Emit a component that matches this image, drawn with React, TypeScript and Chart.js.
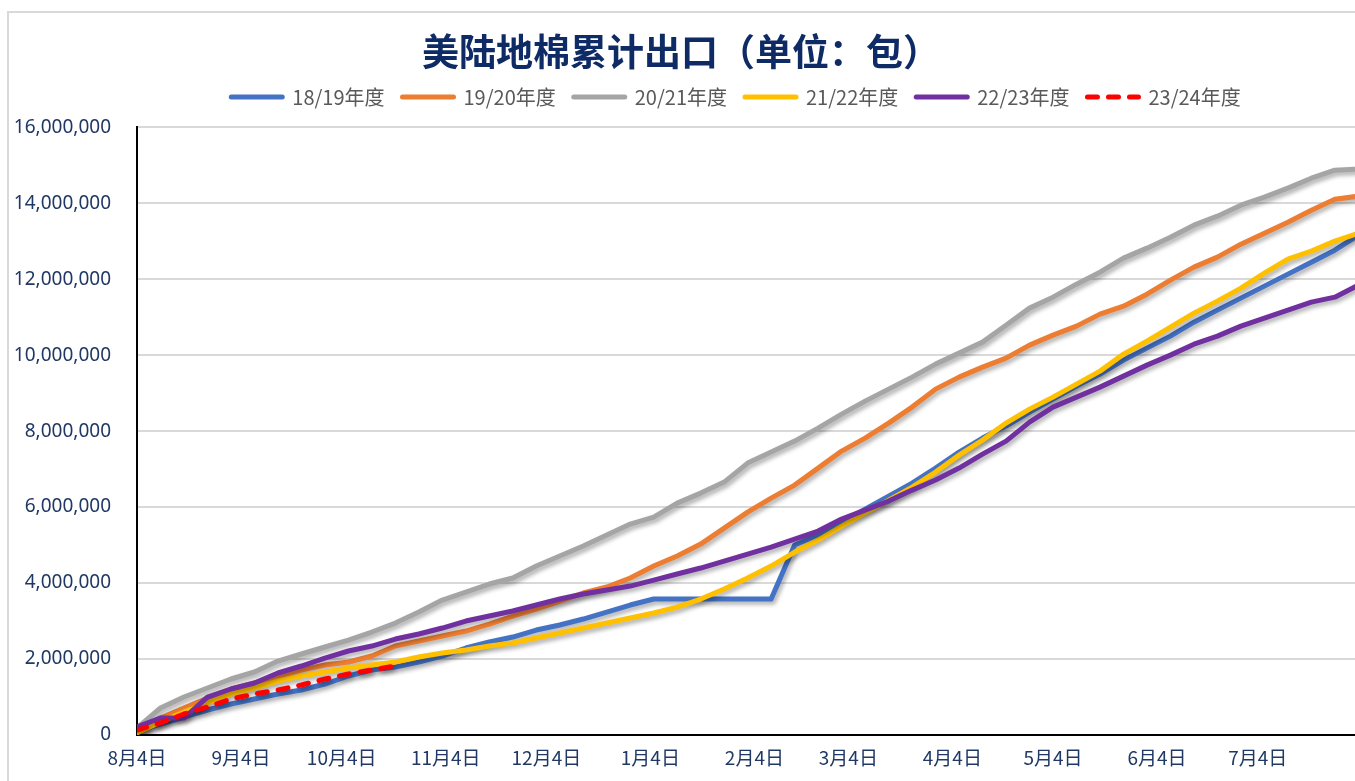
import React, { useEffect, useRef } from 'react';
import { Chart, registerables } from 'chart.js';

Chart.register(...registerables);

const TITLE = '美陆地棉累计出口（单位：包）';

// days since Aug 4 for each weekly observation
const WEEK_DAYS = [0, 7, 14, 21, 28, 35, 42, 49, 56, 63, 70, 77, 84, 91, 98, 105, 112, 119, 126, 133, 140, 147, 154, 161, 168, 175, 182, 189, 196, 203, 210, 217, 224, 231, 238, 245, 252, 259, 266, 273, 280, 287, 294, 301, 308, 315, 322, 329, 336, 343, 350, 357, 364];

// x-axis tick positions (days since Aug 4) and labels
const TICK_DAYS = [0, 31, 61, 92, 122, 153, 184, 212, 243, 273, 304, 334];
const TICK_LABELS = ['8月4日', '9月4日', '10月4日', '11月4日', '12月4日', '1月4日', '2月4日', '3月4日', '4月4日', '5月4日', '6月4日', '7月4日'];

const SERIES_LABELS = ['18/19年度', '19/20年度', '20/21年度', '21/22年度', '22/23年度', '23/24年度'];

const S1819 = [105000, 290000, 474000, 658000, 816000, 947000, 1079000, 1184000, 1342000, 1553000, 1711000, 1789000, 1921000, 2079000, 2289000, 2447000, 2579000, 2763000, 2895000, 3053000, 3237000, 3421000, 3579000, 3579000, 3579000, 3579000, 3579000, 3579000, 5000000, 5263000, 5605000, 5947000, 6289000, 6632000, 7026000, 7447000, 7816000, 8132000, 8500000, 8842000, 9184000, 9500000, 9868000, 10184000, 10500000, 10868000, 11184000, 11500000, 11816000, 12132000, 12447000, 12763000, 13158000];

const S1920 = [132000, 447000, 711000, 974000, 1211000, 1368000, 1553000, 1711000, 1842000, 1921000, 2079000, 2342000, 2474000, 2605000, 2737000, 2921000, 3132000, 3316000, 3526000, 3737000, 3895000, 4132000, 4447000, 4711000, 5026000, 5447000, 5868000, 6237000, 6579000, 7026000, 7474000, 7816000, 8211000, 8632000, 9105000, 9421000, 9684000, 9921000, 10263000, 10526000, 10763000, 11079000, 11289000, 11605000, 11974000, 12316000, 12579000, 12921000, 13211000, 13500000, 13816000, 14105000, 14184000];

const S2021 = [184000, 711000, 1000000, 1237000, 1474000, 1658000, 1947000, 2132000, 2316000, 2500000, 2711000, 2947000, 3237000, 3553000, 3763000, 3974000, 4132000, 4447000, 4711000, 4974000, 5263000, 5553000, 5737000, 6105000, 6368000, 6658000, 7158000, 7447000, 7737000, 8079000, 8447000, 8789000, 9105000, 9421000, 9763000, 10053000, 10342000, 10789000, 11237000, 11526000, 11868000, 12184000, 12553000, 12816000, 13105000, 13421000, 13658000, 13947000, 14158000, 14395000, 14658000, 14868000, 14895000];

const S2122 = [53000, 342000, 605000, 842000, 1079000, 1237000, 1421000, 1553000, 1658000, 1763000, 1842000, 1921000, 2053000, 2158000, 2237000, 2342000, 2421000, 2553000, 2684000, 2816000, 2947000, 3079000, 3211000, 3368000, 3579000, 3842000, 4132000, 4447000, 4816000, 5132000, 5500000, 5842000, 6184000, 6526000, 6921000, 7368000, 7763000, 8211000, 8579000, 8895000, 9237000, 9579000, 10026000, 10368000, 10737000, 11105000, 11421000, 11763000, 12158000, 12526000, 12737000, 13000000, 13211000];

const S2223 = [211000, 447000, 447000, 1000000, 1211000, 1368000, 1632000, 1816000, 2026000, 2211000, 2342000, 2526000, 2658000, 2816000, 3000000, 3132000, 3263000, 3421000, 3579000, 3711000, 3816000, 3921000, 4079000, 4237000, 4395000, 4579000, 4763000, 4947000, 5158000, 5368000, 5684000, 5921000, 6158000, 6447000, 6711000, 7026000, 7395000, 7737000, 8237000, 8632000, 8895000, 9158000, 9447000, 9737000, 10000000, 10289000, 10500000, 10763000, 10974000, 11184000, 11395000, 11526000, 11842000];

const S2324 = [132000, 316000, 553000, 737000, 947000, 1079000, 1184000, 1316000, 1474000, 1605000, 1711000, 1816000];

const SERIES = [S1819, S1920, S2021, S2122, S2223, S2324];
const COLORS = ['#4472C4', '#ED7D31', '#A5A5A5', '#FFC000', '#7030A0', '#FF0000'];
const DASHES = [[], [], [], [], [], [10, 11]];

const LABEL_COLOR = '#1F3864';
const TITLE_COLOR = '#0F2B66';

export default function App() {
  const ref = useRef<HTMLCanvasElement | null>(null);

  useEffect(() => {
    document.body.style.margin = '0';
    const canvas = ref.current;
    if (!canvas) return;

    const frame = {
      id: 'frame',
      afterLayout(chart: any) {
        // centre the legend row where the original places it
        const lg = chart.legend;
        if (lg) {
          lg.left -= 10;
          lg.right -= 10;
        }
      },
      beforeDraw(chart: any) {
        const c = chart.ctx;
        c.save();
        c.fillStyle = '#ffffff';
        c.fillRect(0, 0, chart.width, chart.height);
        c.strokeStyle = '#D9D9D9';
        c.lineWidth = 2;
        c.strokeRect(8, 12, chart.width + 50, chart.height + 50);
        c.restore();
      },
      afterDraw(chart: any) {
        const c = chart.ctx;
        c.save();
        c.fillStyle = TITLE_COLOR;
        c.font = 'bold 37px "Noto Sans CJK SC"';
        c.textAlign = 'center';
        c.textBaseline = 'middle';
        c.fillText(TITLE, 681, 52);
        c.restore();
      },
    };

    const shadow = {
      id: 'lineShadow',
      beforeDatasetsDraw(chart: any) {
        const c = chart.ctx;
        c.save();
        c.shadowColor = 'rgba(0,0,0,0.32)';
        c.shadowBlur = 4;
        c.shadowOffsetX = 2;
        c.shadowOffsetY = 3;
      },
      afterDatasetsDraw(chart: any) {
        chart.ctx.restore();
      },
    };

    const datasets = SERIES.map((vals, si) => ({
      label: SERIES_LABELS[si],
      data: vals.map((v, i) => ({ x: WEEK_DAYS[i], y: v })),
      borderColor: COLORS[si],
      backgroundColor: COLORS[si],
      borderWidth: 5,
      borderDash: DASHES[si],
      borderCapStyle: 'round' as const,
      borderJoinStyle: 'round' as const,
      pointRadius: 0,
      pointHoverRadius: 0,
      tension: 0,
      fill: false,
      order: SERIES.length - si,
    }));

    const chart = new Chart(canvas, {
      type: 'line',
      data: { datasets },
      plugins: [frame, shadow],
      options: {
        animation: false,
        responsive: false,
        devicePixelRatio: 1,
        layout: { padding: { left: 0, top: 69, right: 0, bottom: 0 } },
        plugins: {
          tooltip: { enabled: false },
          title: { display: false },
          subtitle: {
            display: true,
            text: '',
            weight: 500,
            position: 'top',
            font: { size: 1 },
            padding: { top: 0, bottom: 9 },
          } as any,
          legend: {
            position: 'top',
            fullSize: false,
            labels: {
              usePointStyle: true,
              pointStyle: 'line',
              pointStyleWidth: 51,
              padding: 18,
              color: '#595959',
              font: { family: '"Noto Sans CJK SC"', size: 20 },
              generateLabels: (ch: any) => {
                const base = Chart.defaults.plugins.legend.labels.generateLabels(ch);
                return base
                  .map((it: any) => {
                    const ds: any = ch.data.datasets[it.datasetIndex];
                    return {
                      ...it,
                      lineWidth: 5,
                      strokeStyle: ds.borderColor,
                      fillStyle: ds.borderColor,
                      lineDash: ds.borderDash || [],
                      lineCap: 'round',
                      pointStyle: 'line',
                    };
                  })
                  .sort((a: any, b: any) => a.datasetIndex - b.datasetIndex);
              },
            },
          },
        },
        scales: {
          x: {
            type: 'linear',
            min: 0,
            max: 363,
            afterFit: (s: any) => { s.height = 46; },
            afterBuildTicks: (s: any) => { s.ticks = TICK_DAYS.map((v) => ({ value: v })); },
            grid: { display: false, drawTicks: false },
            border: { display: true, color: '#000000', width: 2 },
            ticks: {
              autoSkip: false,
              maxRotation: 0,
              padding: 11,
              color: LABEL_COLOR,
              font: { family: '"Noto Sans CJK SC"', size: 19 },
              callback: (v: any) => {
                const idx = TICK_DAYS.indexOf(Number(v));
                return idx >= 0 ? TICK_LABELS[idx] : '';
              },
            },
          },
          y: {
            min: 0,
            max: 16000000,
            afterFit: (s: any) => { s.width = 137; },
            grid: { color: '#D9D9D9', lineWidth: 2, drawTicks: false },
            border: { display: true, color: '#000000', width: 2 },
            ticks: {
              stepSize: 2000000,
              padding: 26,
              color: LABEL_COLOR,
              font: { family: '"Noto Sans", "Noto Sans CJK SC"', size: 19 },
              callback: (v: any) => Number(v).toLocaleString('en-US'),
            },
          },
        },
      },
    });

    return () => chart.destroy();
  }, []);

  return <canvas ref={ref} width={1355} height={781} style={{ display: 'block' }} />;
}
